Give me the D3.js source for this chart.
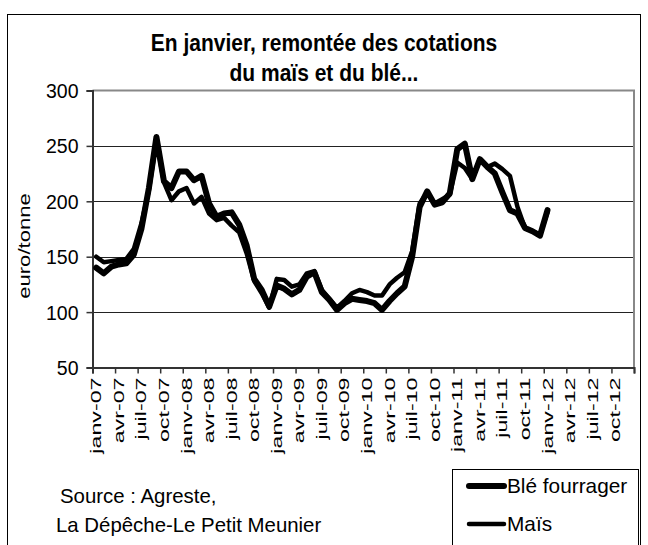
<!DOCTYPE html>
<html>
<head>
<meta charset="utf-8">
<script src="https://cdn.jsdelivr.net/npm/d3@7"></script>
<style>
body { margin: 0; background: #fff; }
text { font-family: "Liberation Sans", Arial, sans-serif; fill: #000; }
</style>
</head>
<body>
<div id="container"></div>
<script>
var w = 648;
var h = 545;

// donnees mensuelles, janv-07 -> janv-12 (euro/tonne)
var ble = [140,135,141,143,144,152,175,212,258,218,212,227,
           227,219,223,198,186,189,190,179,160,130,120,105,
           124,121,116,120,132,136,118,111,102,108,112,111,
           110,108,102,110,117,123,150,195,209,197,199,207,
           247,252,220,238,231,225,208,192,189,176,173,169,
           192];
var mais = [150,145,146,147,148,157,180,210,255,217,201,209,
            212,198,204,189,183,185,178,172,153,128,117,104,
            130,129,123,125,135,137,120,112,104,110,117,120,
            118,115,115,125,131,136,155,198,208,198,202,206,
            235,230,220,238,231,234,229,223,195,176,173,170,
            190];
var moisNoms = ["janv","févr","mars","avr","mai","juin","juil","août","sept","oct","nov","déc"];
var annees = ["07","08","09","10","11","12"];
var yTicks = [50,100,150,200,250,300];
var series = [
  {nom: "Blé fourrager", valeurs: ble, epais: 6},
  {nom: "Maïs", valeurs: mais, epais: 4.5}
];

var mois = [];
annees.forEach(function(a) {
  moisNoms.forEach(function(m) { mois.push(m + "-" + a); });
});

var svg = d3.select("div#container").append("svg")
    .attr("width", w)
    .attr("height", h);

// cadre
svg.append("rect")
  .attr("x", 7.5).attr("y", 14.5)
  .attr("width", 633).attr("height", h)
  .style("fill", "none").style("stroke", "#000").style("stroke-width", 1);

var x = d3.scaleLinear().domain([0, mois.length]).range([92.5, 634]);
var y = d3.scaleLinear().domain([50, 300]).range([367.5, 90.5]);

// titre
svg.append("text")
  .attr("transform", "translate(324,51) scale(1,1.12)")
  .attr("text-anchor", "middle")
  .attr("font-size", "21px").attr("font-weight", "bold")
  .text("En janvier, remontée des cotations");
svg.append("text")
  .attr("transform", "translate(324,81) scale(1,1.12)")
  .attr("text-anchor", "middle")
  .attr("font-size", "21px").attr("font-weight", "bold")
  .text("du maïs et du blé...");

// grille
svg.append("g")
  .selectAll("line")
  .data(yTicks.slice(1, -1))
  .enter().append("line")
  .attr("x1", x(0)).attr("x2", x(mois.length))
  .attr("y1", function(d) { return Math.round(y(d)) + 0.5; })
  .attr("y2", function(d) { return Math.round(y(d)) + 0.5; })
  .style("stroke", "#222").style("stroke-width", 1);

// bord du trace
svg.append("path")
  .attr("d", "M" + x(0) + "," + y(300) + "H" + x(mois.length) + "V" + y(50))
  .style("fill", "none").style("stroke", "#888").style("stroke-width", 2);

// axe Y
var gy = svg.append("g")
  .attr("transform", "translate(" + x(0) + ",0)")
  .call(d3.axisLeft(y).tickValues(yTicks).tickSize(6).tickPadding(8));
gy.select(".domain").style("stroke", "#333").style("stroke-width", 2);
gy.selectAll(".tick line").style("stroke", "#333").style("stroke-width", 1.5);
gy.selectAll(".tick text")
  .attr("font-size", "19.5px")
  .attr("font-family", "Liberation Sans, Arial, sans-serif")
  .attr("dy", "0.36em");

svg.append("text")
  .attr("transform", "translate(30,246) rotate(-90) scale(1.3,1)")
  .attr("text-anchor", "middle")
  .attr("font-size", "17px")
  .text("euro/tonne");

// axe X
var gx = svg.append("g")
  .attr("transform", "translate(0," + y(50) + ")")
  .call(d3.axisBottom(x).tickValues(d3.range(0, mois.length + 1, 3)).tickSize(6).tickFormat(""));
gx.select(".domain").style("stroke", "#333").style("stroke-width", 2);
gx.selectAll(".tick line").style("stroke", "#333").style("stroke-width", 1.5);

svg.append("g")
  .selectAll("text")
  .data(d3.range(0, mois.length, 3))
  .enter().append("text")
  .attr("transform", function(i) {
    return "translate(" + (x(i + 0.5) + 5) + "," + (y(50) + 10) + ") rotate(-90) scale(1.55,1)";
  })
  .attr("text-anchor", "end")
  .attr("font-size", "15px")
  .text(function(i) { return mois[i]; });

// courbes
var line = d3.line()
  .x(function(d, i) { return x(i + 0.5); })
  .y(function(d) { return y(d); });

svg.append("g")
  .selectAll("path")
  .data(series)
  .enter().append("path")
  .attr("d", function(d) { return line(d.valeurs); })
  .style("fill", "none")
  .style("stroke", "#000")
  .style("stroke-width", function(d) { return d.epais; })
  .style("stroke-linejoin", "round")
  .style("stroke-linecap", "round");

// source
svg.append("text")
  .attr("x", 60).attr("y", 503)
  .attr("font-size", "20.4px")
  .text("Source : Agreste,");
svg.append("text")
  .attr("x", 56).attr("y", 532)
  .attr("font-size", "20.4px")
  .text("La Dépêche-Le Petit Meunier");

// legende
var leg = svg.append("g").attr("transform", "translate(452,469)");
leg.append("rect")
  .attr("x", 0.5).attr("y", 0.5)
  .attr("width", 186).attr("height", 90)
  .style("fill", "#fff").style("stroke", "#000").style("stroke-width", 1);

var item = leg.selectAll("g.item")
  .data(series)
  .enter().append("g")
  .attr("class", "item")
  .attr("transform", function(d, i) { return "translate(0," + (17 + i * 38) + ")"; });
item.append("line")
  .attr("x1", 17).attr("x2", 52)
  .style("stroke", "#000")
  .style("stroke-width", function(d) { return d.epais; })
  .style("stroke-linecap", "round");
item.append("text")
  .attr("x", 55).attr("y", 7)
  .attr("font-size", "20.8px")
  .text(function(d) { return d.nom; });
</script>
</body>
</html>
